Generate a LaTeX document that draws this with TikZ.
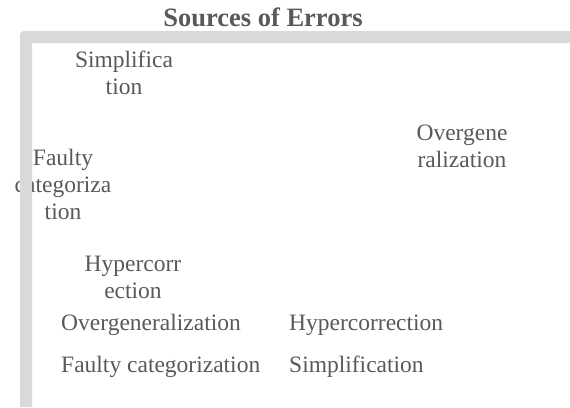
\documentclass[tikz,border=0pt]{standalone}
\usepackage{fontspec}
\setmainfont{Liberation Serif}
\definecolor{txtgray}{HTML}{595959}
\definecolor{framegray}{HTML}{D9D9D9}

\begin{document}
\begin{tikzpicture}[x=1pt, y=-1pt,
		lbl/.style={align=center, inner sep=0pt, anchor=base, text=txtgray, font=\fontsize{23.5}{27}\selectfont},
		legend/.style={inner sep=0pt, anchor=base west, text=txtgray, font=\fontsize{23.5}{27}\selectfont}]
		\useasboundingbox (0,0) rectangle (570,407);
		\node[inner sep=0pt, anchor=base, text=txtgray, font=\fontsize{26.5}{30}\selectfont\bfseries] (title) at (263,26.5) {Sources of Errors};
		% anchor=base sits on the last line
		\node[lbl] (simp) at (124,94) {Simplifica\\tion};
		\node[lbl] (over) at (462,167) {Overgene\\ralization};
		\node[lbl] (faulty) at (63,219) {Faulty\\categoriza\\tion};
		\node[lbl] (hyper) at (133,298) {Hypercorr\\ection};
		\node[legend] (leg over) at (61,330) {Overgeneralization};
		\node[legend] (leg hyper) at (289,330) {Hypercorrection};
		\node[legend] (leg faulty) at (61,372) {Faulty categorization};
		\node[legend] (leg simp) at (289,372) {Simplification};
		\fill[framegray] (20,407) -- (20,35) to[out=90, in=180] (24,31) -- (570,31) -- (570,43) -- (32,43) -- (32,407) -- cycle;
	\end{tikzpicture}
\end{document}
